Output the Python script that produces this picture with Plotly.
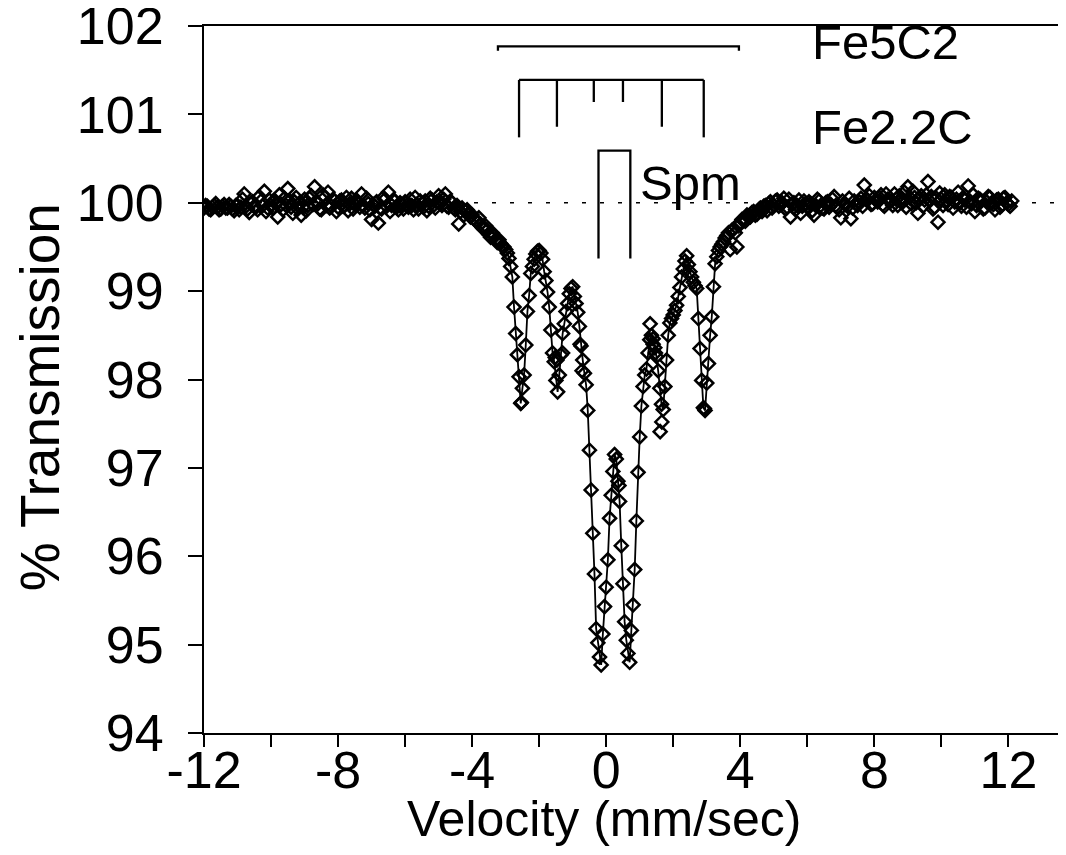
import numpy as np
import plotly.graph_objects as go

# ---------------- data ----------------
# left wing: velocity -12.0 ... -3.1, step 0.1 mm/s
wing_left_pct = [
    99.94, 99.96, 99.92, 99.97, 99.95, 99.93, 99.98, 99.94, 99.96, 99.91,
    99.97, 99.95, 100.10, 99.93, 99.99, 99.96, 99.92, 100.02, 100.13, 99.94,
    99.97, 100.03, 99.84, 99.98, 100.05, 100.16, 99.95, 100.01, 99.93, 99.86,
    100.04, 99.97, 100.08, 100.18, 99.99, 99.92, 100.06, 100.12, 99.96, 100.02,
    99.95, 100.03, 99.97, 99.91, 100.05, 99.98, 100.00, 100.10, 99.94, 99.99,
    99.81, 99.96, 99.77, 99.93, 100.04, 100.12, 99.97, 100.02, 99.92, 99.98,
    100.01, 99.95, 99.97, 100.06, 99.93, 99.99, 100.02, 99.96, 100.03, 99.94,
    100.08, 99.97, 100.10, 99.95, 100.00, 99.92, 99.76, 99.94, 99.90, 99.88,
    99.86, 99.80, 99.83, 99.72, 99.74, 99.64, 99.66, 99.58, 99.58, 99.51,
]
# left wing, interleaved channels: velocity -11.95 ... -3.15, step 0.1 mm/s
wing_left_pct_b = [
    99.97, 99.93, 99.95, 99.99, 99.92, 99.96, 99.94, 99.98, 99.93, 99.97,
    99.92, 100.04, 99.96, 99.89, 100.01, 99.95, 100.07, 99.97, 99.90, 100.03,
    99.94, 99.99, 100.09, 99.92, 99.97, 100.02, 99.88, 100.06, 100.00, 99.95,
    99.91, 100.05, 99.98, 100.01, 99.93, 100.09, 99.97, 99.94, 100.04, 99.90,
    100.02, 99.96, 100.06, 99.99, 99.93, 100.03, 99.95, 99.97, 100.05, 99.92,
    99.98, 100.01, 99.94, 100.06, 99.96, 99.90, 100.03, 99.95, 100.00, 99.93,
    99.97, 100.04, 99.92, 99.98, 100.02, 99.95, 99.91, 100.05, 99.97, 100.01,
    99.99, 100.04, 99.96, 100.02, 99.94, 99.97, 99.90, 99.86, 99.92, 99.84,
    99.82, 99.78, 99.76, 99.70, 99.69, 99.61, 99.62, 99.55, 99.54,
]
# core: velocity -3.05 ... 3.45, step 0.05 mm/s
core_pct = [
    99.50, 99.47, 99.43, 99.37, 99.28, 99.16, 98.82, 98.52, 98.28, 98.03,
    97.73, 97.90, 98.05, 98.39, 98.77, 98.95, 99.20, 99.28, 99.36, 99.42,
    99.45, 99.46, 99.43, 99.36, 99.22, 99.12, 98.99, 98.82, 98.56, 98.30,
    98.20, 97.99, 97.86, 98.05, 98.28, 98.52, 98.63, 98.77, 98.86, 98.97,
    99.03, 99.05, 98.94, 98.86, 98.76, 98.60, 98.38, 98.22, 98.07, 97.94,
    97.65, 97.20, 96.75, 96.26, 95.80, 95.18, 95.02, 94.86, 94.77, 95.12,
    95.43, 95.65, 95.96, 96.43, 96.69, 96.96, 97.15, 97.10, 96.85, 96.62,
    96.12, 95.69, 95.26, 95.05, 94.90, 94.80, 95.16, 95.45, 95.85, 96.40,
    96.95, 97.35, 97.70, 97.92, 98.05, 98.12, 98.30, 98.45, 98.50, 98.46,
    98.36, 98.26, 98.10, 97.90, 97.72, 97.66, 97.92, 98.22, 98.50, 98.64,
    98.69, 98.73, 98.78, 98.84, 98.94, 99.04, 99.16, 99.25, 99.34, 99.40,
    99.30, 99.22, 99.16, 99.10, 99.06, 99.03, 98.69, 98.35, 97.99, 97.68,
    97.65, 97.96, 98.18, 98.50, 98.71, 99.05, 99.31, 99.39, 99.46, 99.50,
    99.53,
]
# right wing: velocity 3.5 ... 12.1, step 0.1 mm/s
wing_right_pct = [
    99.56, 99.63, 99.47, 99.70, 99.50, 99.78, 99.80, 99.86, 99.84, 99.90,
    99.87, 99.94, 99.96, 99.91, 100.01, 99.97, 100.03, 99.98, 100.05, 99.95,
    99.84, 100.00, 99.97, 99.88, 100.02, 99.96, 99.99, 99.86, 100.04, 99.97,
    99.93, 100.01, 99.98, 100.07, 99.95, 99.83, 99.99, 99.96, 99.82, 100.02,
    99.97, 100.05, 100.20, 100.03, 99.98, 100.06, 100.01, 100.09, 99.96, 100.04,
    100.02, 100.10, 99.97, 100.05, 100.12, 100.18, 99.99, 100.06, 99.88, 100.08,
    100.03, 100.24, 100.07, 99.95, 99.78, 100.04, 100.09, 99.98, 100.06, 100.01,
    100.12, 99.96, 100.03, 100.19, 99.99, 99.90, 100.05, 100.02, 99.94, 100.07,
    100.00, 99.92, 100.04, 99.97, 100.06, 99.98, 100.02,
]
# right wing, interleaved channels: velocity 3.55 ... 12.05, step 0.1 mm/s
wing_right_pct_b = [
    99.60, 99.66, 99.69, 99.66, 99.74, 99.81, 99.79, 99.84, 99.89, 99.86,
    99.92, 99.90, 99.97, 99.99, 99.94, 100.02, 99.96, 100.00, 99.93, 100.04,
    99.98, 99.92, 100.03, 99.96, 99.99, 100.01, 99.91, 99.97, 100.02, 99.94,
    100.00, 99.95, 100.04, 99.97, 99.92, 100.02, 99.98, 100.05, 99.94, 99.99,
    100.01, 99.96, 100.04, 100.08, 99.99, 100.03, 100.06, 99.98, 100.10, 100.02,
    99.97, 100.04, 100.08, 100.01, 99.95, 100.06, 100.13, 100.00, 100.05, 99.96,
    100.09, 100.02, 99.93, 100.05, 100.11, 99.97, 100.03, 100.07, 99.94, 100.04,
    100.00, 100.06, 99.95, 100.02, 100.09, 99.97, 100.04, 99.93, 100.01, 100.06,
    99.98, 100.03, 99.95, 100.05, 100.00, 99.96,
]
# scattered points off the fitted curve
extra_vel = [-2.53, -1.52, -1.47, -1.30, -0.78, -0.72, 0.38, 1.31, 1.40, 1.47, 1.61, 1.66, 2.93]
extra_pct = [97.74, 98.25, 98.22, 98.30, 98.40, 98.10, 96.80, 98.63, 98.40, 98.30, 97.41, 97.52, 97.67]

# channel grids (velocity axis)
vel_left = np.round(-12.0 + 0.1 * np.arange(len(wing_left_pct)), 2)
vel_left_b = np.round(-11.95 + 0.1 * np.arange(len(wing_left_pct_b)), 2)
vel_core = np.round(-3.05 + 0.05 * np.arange(len(core_pct)), 2)
vel_right = np.round(3.5 + 0.1 * np.arange(len(wing_right_pct)), 2)
vel_right_b = np.round(3.55 + 0.1 * np.arange(len(wing_right_pct_b)), 2)

# stick diagrams
fe5c2_span = [-3.23, 3.96]
fe5c2_bar = 101.77
fe5c2_end = 101.72
fe22c_pos = [-2.60, -1.47, -0.37, 0.50, 1.66, 2.91]
fe22c_bottom = [100.74, 100.86, 101.14, 101.14, 100.86, 100.74]
fe22c_bar = 101.39
spm_pos = [-0.23, 0.72]
spm_top = 100.59
spm_bottom = 99.37

# axes
x_range = [-12, 13.48]
x_tick_vals = [-12, -10, -8, -6, -4, -2, 0, 2, 4, 6, 8, 10, 12]
x_tick_text = ["-12", "", "-8", "", "-4", "", "0", "", "4", "", "8", "", "12"]
y_tick_vals = [94, 95, 96, 97, 98, 99, 100, 101, 102]

FONT = "Liberation Sans, Arial, sans-serif"
FS_TICK = 52
FS_TEXT = 49

fig = go.Figure()

# fitted curve through the absorption lines
fig.add_trace(go.Scatter(
    x=vel_core, y=core_pct, mode="lines",
    line=dict(color="black", width=1.8), hoverinfo="skip", showlegend=False))

# measured points
all_vel = np.concatenate([vel_left, vel_left_b, vel_core, vel_right, vel_right_b, extra_vel])
all_pct = np.concatenate([wing_left_pct, wing_left_pct_b, core_pct,
                          wing_right_pct, wing_right_pct_b, extra_pct])
fig.add_trace(go.Scatter(
    x=all_vel, y=all_pct, mode="markers",
    marker=dict(symbol="diamond-open", size=10, color="black",
                line=dict(color="black", width=2.5)),
    showlegend=False))

# Fe5C2 bar
sx = [fe5c2_span[0], fe5c2_span[0], fe5c2_span[1], fe5c2_span[1]]
sy = [fe5c2_end, fe5c2_bar, fe5c2_bar, fe5c2_end]
fig.add_trace(go.Scatter(x=sx, y=sy, mode="lines",
                         line=dict(color="black", width=2.3), showlegend=False, hoverinfo="skip"))

# Fe2.2C sextet sticks
fx, fy = [fe22c_pos[0], fe22c_pos[-1], None], [fe22c_bar, fe22c_bar, None]
for p, b in zip(fe22c_pos, fe22c_bottom):
    fx += [p, p, None]
    fy += [fe22c_bar, b, None]
fig.add_trace(go.Scatter(x=fx, y=fy, mode="lines",
                         line=dict(color="black", width=2.3), showlegend=False, hoverinfo="skip"))

# Spm doublet
px = [spm_pos[0], spm_pos[0], spm_pos[1], spm_pos[1]]
py = [spm_bottom, spm_top, spm_top, spm_bottom]
fig.add_trace(go.Scatter(x=px, y=py, mode="lines",
                         line=dict(color="black", width=2.3), showlegend=False, hoverinfo="skip"))

# dotted baseline at 100 %
fig.add_shape(type="line", xref="paper", x0=0, x1=1, yref="y", y0=100, y1=100,
              line=dict(color="black", width=1.5, dash="4px,14px"), layer="below")

ann = dict(showarrow=False, font=dict(family=FONT, size=FS_TEXT, color="black"))
fig.add_annotation(x=6.07, y=101.82, xref="x", yref="y", text="Fe5C2",
                   xanchor="left", yanchor="middle", **ann)
fig.add_annotation(x=6.07, y=100.86, xref="x", yref="y", text="Fe2.2C",
                   xanchor="left", yanchor="middle", **ann)
fig.add_annotation(x=0.94, y=100.22, xref="x", yref="y", text="Spm",
                   xanchor="left", yanchor="middle", **ann)
# axis titles
fig.add_annotation(x=-0.05, y=-0.121, xref="x", yref="paper", text="Velocity (mm/sec)",
                   xanchor="center", yanchor="middle", showarrow=False,
                   font=dict(family=FONT, size=50, color="black"))
fig.add_annotation(x=-0.192, y=0.475, xref="paper", yref="paper", text="% Transmission",
                   textangle=-90, xanchor="center", yanchor="middle", showarrow=False,
                   font=dict(family=FONT, size=55, color="black"))

# the page adds an 8 px body margin, so the figure is offset by 8 px
fig.update_layout(
    width=1050, height=839,
    margin=dict(l=196, r=0, t=18, b=114, autoexpand=False),
    paper_bgcolor="white", plot_bgcolor="white",
    font=dict(family=FONT, size=FS_TEXT, color="black"),
    xaxis=dict(range=x_range, tickmode="array", tickvals=x_tick_vals, ticktext=x_tick_text,
               ticks="outside", ticklen=12, tickwidth=2, tickcolor="black",
               showline=True, linewidth=2, linecolor="black", mirror=True,
               showgrid=False, zeroline=False, ticklabelstandoff=-21,
               ticklabeloverflow="allow",
               tickfont=dict(family=FONT, size=FS_TICK, color="black")),
    yaxis=dict(range=[94, 102], tickmode="array", tickvals=y_tick_vals,
               ticks="outside", ticklen=14, tickwidth=2, tickcolor="black",
               showline=True, linewidth=2, linecolor="black",
               showgrid=False, zeroline=False, ticklabelstandoff=14,
               ticklabeloverflow="allow",
               tickfont=dict(family=FONT, size=FS_TICK, color="black")),
)

fig.write_html("out.html")
